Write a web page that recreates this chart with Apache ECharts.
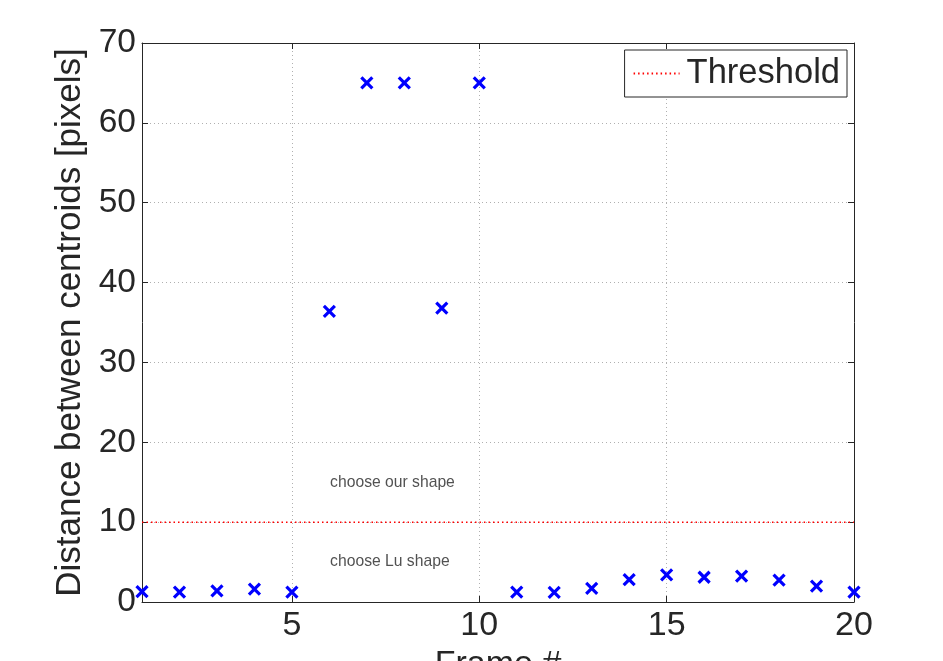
<!DOCTYPE html>
<html>
<head>
<meta charset="utf-8">
<script src="https://cdn.jsdelivr.net/npm/echarts@6/dist/echarts.min.js"></script>
<style>
  html, body { margin: 0; padding: 0; background: #fff; }
  #chart { width: 943px; height: 661px; }
</style>
</head>
<body>
<div id="chart"></div>
<script>
// frame numbers and centroid distances
const frames = [1, 2, 3, 4, 5, 6, 7, 8, 9, 10, 11, 12, 13, 14, 15, 16, 17, 18, 19, 20];
const distances = [1.3, 1.25, 1.4, 1.6, 1.25, 36.4, 65, 65, 36.8, 65, 1.25, 1.2, 1.7, 2.8, 3.4, 3.1, 3.25, 2.75, 2.0, 1.25];
const threshold = 10;
const xTicks = [5, 10, 15, 20];
const notes = [
  { text: "choose our shape", x: 6.02, y: 15 },
  { text: "choose Lu shape", x: 6.02, y: 5 },
];

const chartDom = document.getElementById("chart");
const myChart = echarts.init(chartDom);
const font = "Liberation Sans, Arial, sans-serif";
const ink = "#262626";

const gridLine = { show: true, lineStyle: { color: "#b0b0b0", type: [1, 3], width: 1 } };

const option = {
  animation: false,
  backgroundColor: "#fff",
  textStyle: { fontFamily: font },
  grid: { left: 142, right: 89, top: 43, bottom: 59, outerBoundsMode: "none", containLabel: false },
  legend: {
    right: 96,
    top: 50,
    orient: "vertical",
    data: [{ name: "Threshold" }],
    itemWidth: 46,
    itemHeight: 14,
    padding: [6, 7, 6, 8],
    borderColor: ink,
    borderWidth: 1,
    backgroundColor: "#fff",
    borderRadius: 0,
    itemStyle: { color: "transparent", borderWidth: 0, opacity: 0 },
    textStyle: { fontSize: 34.5, color: ink, fontFamily: font, padding: [0, 0, 0, 2] },
  },
  xAxis: [
    {
      type: "value",
      min: 1,
      max: 20,
      name: "Frame #",
      nameLocation: "middle",
      nameGap: 37,
      nameTextStyle: { fontSize: 34, color: ink, fontFamily: font },
      axisLine: { lineStyle: { color: ink, width: 1 } },
      axisTick: { inside: true, length: 6, customValues: xTicks, lineStyle: { color: ink } },
      axisLabel: { customValues: xTicks, fontSize: 34, color: ink, margin: 7, fontFamily: font },
      splitLine: gridLine,
    },
    {
      type: "value",
      position: "top",
      min: 1,
      max: 20,
      axisLine: { show: true, onZero: false, lineStyle: { color: ink, width: 1 } },
      axisTick: { inside: true, length: 6, customValues: xTicks, lineStyle: { color: ink } },
      axisLabel: { show: false },
      splitLine: { show: false },
    },
  ],
  yAxis: [
    {
      type: "value",
      min: 0,
      max: 70,
      interval: 10,
      name: "Distance between centroids [pixels]",
      nameLocation: "middle",
      nameGap: 50,
      nameTextStyle: { fontSize: 35, color: ink, fontFamily: font },
      axisLine: { show: true, lineStyle: { color: ink, width: 1 } },
      axisTick: { inside: true, length: 6, lineStyle: { color: ink } },
      axisLabel: { fontSize: 33.5, color: ink, margin: 6, fontFamily: font },
      splitLine: gridLine,
    },
    {
      type: "value",
      position: "right",
      min: 0,
      max: 70,
      interval: 10,
      axisLine: { show: true, onZero: false, lineStyle: { color: ink, width: 1 } },
      axisTick: { show: true, inside: true, length: 6, lineStyle: { color: ink } },
      axisLabel: { show: false },
      splitLine: { show: false },
    },
  ],
  series: [
    {
      name: "Threshold",
      type: "line",
      data: [[1, threshold], [20, threshold]],
      symbol: "none",
      showSymbol: false,
      lineStyle: { color: "#ff0000", width: 1.5, type: [1.5, 3] },
      itemStyle: { color: "#ff0000" },
      z: 3,
    },
    {
      name: "distance",
      type: "scatter",
      data: frames.map((f, i) => [f, distances[i]]),
      symbol: "path://M0,0L10,10M10,0L0,10",
      symbolSize: 11,
      itemStyle: { color: "none", borderColor: "#0000ff", borderWidth: 3.2, opacity: 1 },
      z: 5,
    },
    {
      name: "notes",
      type: "scatter",
      data: notes.map((n) => ({ value: [n.x, n.y], label: { formatter: n.text } })),
      symbolSize: 0,
      label: {
        show: true,
        position: "right",
        distance: 0,
        fontSize: 15.7,
        color: ink,
        fontFamily: font,
      },
      silent: true,
    },
  ],
};

myChart.setOption(option);
</script>
</body>
</html>
